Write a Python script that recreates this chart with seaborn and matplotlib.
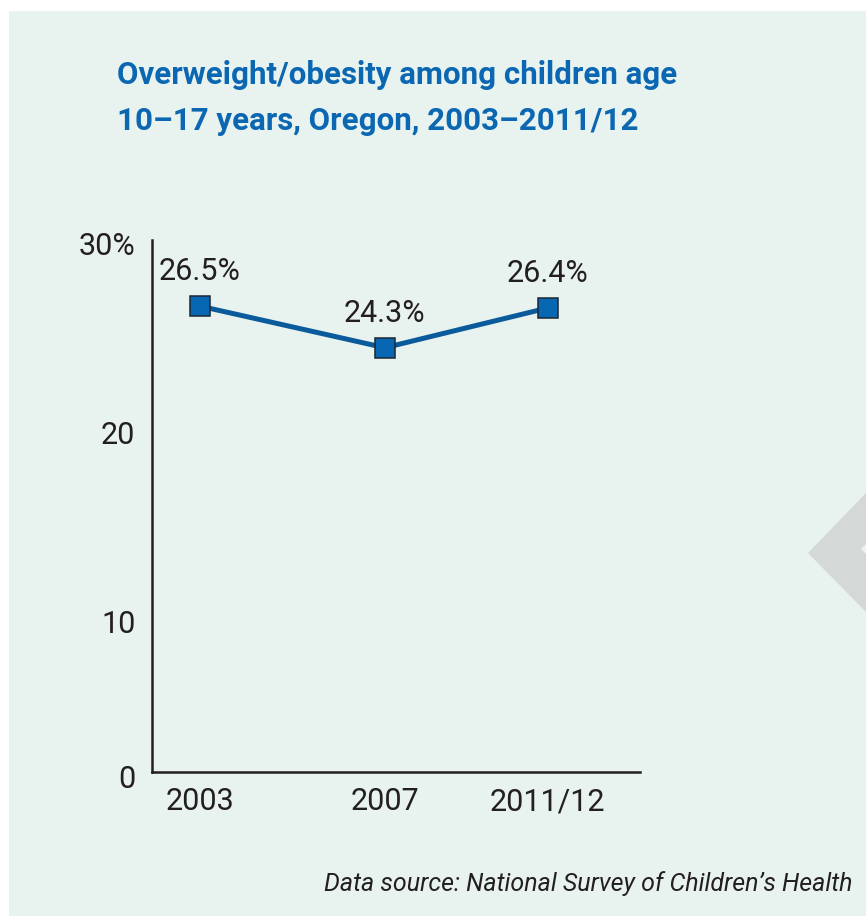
import matplotlib
matplotlib.use("Agg")
import matplotlib.pyplot as plt
from matplotlib.patches import Rectangle, Polygon
from matplotlib.transforms import ScaledTranslation
import pandas as pd
import seaborn as sns

# Survey waves and the share of children 10-17 who were overweight or obese
survey_years = ["2003", "2007", "2011/12"]
prevalence_pct = [26.5, 24.3, 26.4]

# Horizontal placement of each wave along the x axis
year_positions = [0.0, 1.0, 1.88]

# Value axis: the bottom of the axis carries the "0" label
axis_floor = 1.85
y_ticks = [10, 20, 30]
y_tick_labels = ["10", "20", "30%"]

title_lines = ["Overweight/obesity among children age",
               "10\u201317 years, Oregon, 2003\u20132011/12"]
source_note = "Data source: National Survey of Children\u2019s Health"

df = pd.DataFrame({"pos": year_positions, "pct": prevalence_pct, "year": survey_years})

sns.set_theme(style="white")
plt.rcParams["font.family"] = ["Roboto", "DejaVu Sans"]

W, H = 866, 916
INK = "#231f20"
PANEL = "#e8f3ef"
BLUE_TITLE = "#0b67b2"
LINE_BLUE = "#0a5a9c"
MARKER_BLUE = "#0767b3"


def fx(px):
    return px / W


def fy(py):
    return 1 - py / H


fig = plt.figure(figsize=(W / 100, H / 100), dpi=100, facecolor="white")

# Tinted panel behind the chart
fig.patches.append(Rectangle((fx(9), 0), 1 - fx(9), fy(11), transform=fig.transFigure,
                             facecolor=PANEL, edgecolor="none", zorder=-3))
# Page-turn chevron at the right edge
fig.patches.append(Polygon([(fx(808), fy(553)), (fx(866), fy(493)), (fx(866), fy(612))],
                           closed=True, transform=fig.transFigure,
                           facecolor="#d4d9d7", edgecolor="none", zorder=-2))
fig.patches.append(Polygon([(fx(861), fy(549)), (fx(866), fy(544)), (fx(866), fy(554))],
                           closed=True, transform=fig.transFigure,
                           facecolor="#eef3f1", edgecolor="none", zorder=-1))

ax = fig.add_axes([fx(152), fy(772), fx(640) - fx(152), fy(240) - fy(772)])
ax.set_facecolor("none")
ax.set_zorder(5)

sns.lineplot(data=df, x="pos", y="pct", ax=ax, sort=False, color=LINE_BLUE, lw=3.6,
             marker="s", markersize=15, markerfacecolor=MARKER_BLUE,
             markeredgecolor="#1b2733", markeredgewidth=1.1, zorder=3)

for x, v in zip(year_positions, prevalence_pct):
    ax.annotate(f"{v}%", (x, v), xytext=(0, 26), textcoords="offset pixels",
                ha="center", va="baseline", fontsize=22, color=INK)

ax.set_xlim(-0.26, 2.38)
ax.set_ylim(axis_floor, 30)
ax.set_xticks(year_positions, survey_years)
ax.set_yticks([axis_floor] + y_ticks, ["0"] + y_tick_labels)
ax.set_xlabel("")
ax.set_ylabel("")
ax.tick_params(axis="both", length=0, labelsize=22, colors=INK)
ax.tick_params(axis="x", pad=11)
ax.tick_params(axis="y", pad=12)
shift = ScaledTranslation(0, -4 / 100, fig.dpi_scale_trans)
for lab in ax.get_yticklabels():
    lab.set_transform(lab.get_transform() + shift)

for side in ("top", "right"):
    ax.spines[side].set_visible(False)
for side in ("left", "bottom"):
    ax.spines[side].set_color(INK)
    ax.spines[side].set_linewidth(1.8)

fig.text(fx(117), fy(84), title_lines[0], ha="left", va="baseline",
         fontsize=22.5, fontweight="bold", color=BLUE_TITLE)
fig.text(fx(117), fy(130), title_lines[1], ha="left", va="baseline",
         fontsize=22.5, fontweight="bold", color=BLUE_TITLE)

fig.text(fx(853), fy(891), source_note, ha="right", va="baseline",
         fontsize=18, style="italic", color=INK)

fig.savefig("out.png", dpi=100, facecolor="white")
